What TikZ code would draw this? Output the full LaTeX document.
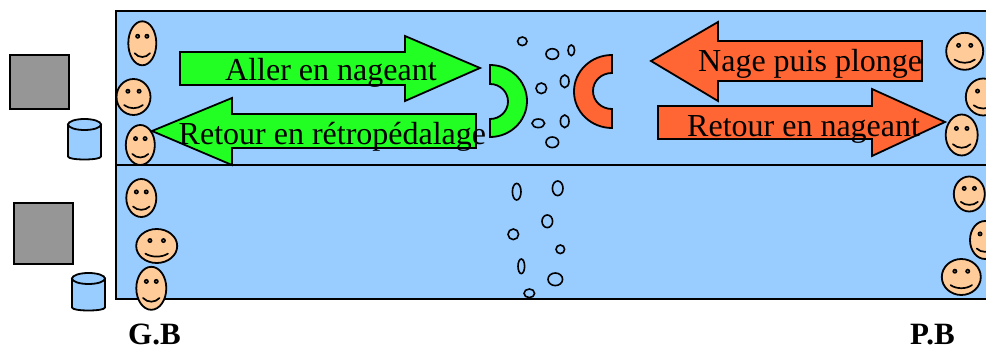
\documentclass[tikz,border=0pt]{standalone}
\usepackage{fontspec}
\setmainfont{Liberation Serif}
\definecolor{water}{HTML}{99CCFF}
\definecolor{skin}{HTML}{FFCC99}
\definecolor{vert}{HTML}{22FF22}
\definecolor{orange2}{HTML}{FF6633}
\definecolor{gris}{HTML}{969696}
\tikzset{
  x=1pt,y=-1pt,
  outl/.style={draw=black,line width=1.8pt,line join=miter},
  basin/.style={outl,fill=water},
  block/.style={outl,fill=gris},
  bubble/.style={draw=black,line width=1.6pt},
  lab/.style={inner sep=0pt,anchor=base west,font=\fontsize{32}{32}\selectfont},
  cote/.style={inner sep=0pt,anchor=base west,font=\fontsize{31}{31}\selectfont\bfseries},
}
\newcommand{\bonhomme}[4]{%
  \begin{scope}[shift={(#1,#2)}]
    \draw[outl,fill=skin] (0,0) ellipse [x radius=#3,y radius=#4];
    \fill[black] (-0.33*#3,-0.32*#4) circle (2.5);
    \fill[black] (0.33*#3,-0.32*#4) circle (2.5);
    \fill[skin!60!black] (-0.33*#3,-0.32*#4) circle (0.8);
    \fill[skin!60!black] (0.33*#3,-0.32*#4) circle (0.8);
    \draw[line width=1.7pt,line cap=round] (-0.55*#3,0.45*#4) .. controls (-0.25*#3,0.68*#4) and (0.25*#3,0.68*#4) .. (0.55*#3,0.45*#4);
  \end{scope}}
\newcommand{\bidon}[4]{% left, right, top, bottom
  \draw[outl,fill=water] (#1,#3+5.5) -- (#1,#4-5.5) .. controls (#1,#4-1.5) and (#2,#4-1.5) .. (#2,#4-5.5) -- (#2,#3+5.5) -- cycle;
  \draw[outl,fill=water] ({(#1+#2)/2},#3+5.5) ellipse [x radius=(#2-#1)/2,y radius=5.5];}
\begin{document}
\begin{tikzpicture}
\useasboundingbox (0,0) rectangle (986,347);
\clip (0,0) rectangle (986,347);
% basins
\fill[water] (116,11) rectangle (1000,299);
\draw[outl] (1000,11) -- (116,11) -- (116,299) -- (1000,299);
\draw[outl] (116,165) -- (1000,165);
% blocks
\draw[block] (10,55) rectangle (69,109);
\draw[block] (14,203) rectangle (73,264);
\bidon{68}{101}{119}{162}
\bidon{72}{105}{273}{313}
% faces
\bonhomme{142.3}{43.3}{14}{22}
\bonhomme{133.5}{97}{17}{18}
\bonhomme{140.3}{145}{14.5}{20}
\bonhomme{141.3}{198}{15}{19}
\bonhomme{156.7}{246}{20.5}{17}
\bonhomme{151.3}{288.3}{15}{21.5}
\bonhomme{964.7}{51.3}{18.5}{18.5}
\bonhomme{983.3}{97}{17.5}{18.5}
\bonhomme{961.7}{135}{16}{20.5}
\bonhomme{969.3}{194}{15.5}{17.5}
\bonhomme{985}{240}{15}{19}
\bonhomme{961.3}{277}{19.5}{18}
% arrows
\draw[outl,fill=vert] (180,52) -- (405,52) -- (405,36) -- (480,68) -- (405,101) -- (405,85) -- (180,85) -- cycle;
\draw[outl,fill=vert] (152,131) -- (232,98) -- (232,114) -- (476,114) -- (476,148) -- (232,148) -- (232,165) -- cycle;
\draw[outl,fill=orange2] (651,61) -- (718,22) -- (718,41) -- (922,41) -- (922,81) -- (718,81) -- (718,101) -- cycle;
\draw[outl,fill=orange2] (658,106) -- (872,106) -- (872,89) -- (945,122) -- (872,156) -- (872,139) -- (658,139) -- cycle;
% fins
\draw[outl,fill=vert] (490,65) .. controls (510.4,65) and (527,81.1) .. (527,101) .. controls (527,120.9) and (510.4,137) .. (490,137) -- (490,119) .. controls (500,119) and (508,111.2) .. (508,101.5) .. controls (508,91.8) and (500,84) .. (490,84) -- cycle;
\draw[outl,fill=orange2] (612,55) .. controls (591,55) and (574,71.3) .. (574,91.5) .. controls (574,111.7) and (591,128) .. (612,128) -- (612,109) .. controls (601.5,109) and (593,101.2) .. (593,91) .. controls (593,80.8) and (601.5,73) .. (612,73) -- cycle;
% bubbles
\foreach \bx/\by/\rx/\ry in {
 522.3/41.3/4.7/4.3, 552.3/54/6.3/5.3, 571.3/50.3/3.3/5.3, 541.3/88.3/5.3/5.3,
 564.7/81.3/4.3/6.3, 538.3/123.3/6.3/4.3, 564.7/121.3/4.3/6.3, 552.3/142.3/6.3/5.3,
 516.7/191.7/4.3/8.3, 557.7/188.3/5.3/7.3, 547.3/221.3/5.3/6.3, 513.3/234.3/5.3/5.3,
 560.3/249.3/4.3/4.3, 521.3/266.3/3.3/7.3, 555.3/279.3/7.3/6.3, 529.3/293.3/5.3/4.3}
  \draw[bubble] (\bx,\by) ellipse [x radius=\rx,y radius=\ry];
% labels
\node[lab] (t1) at (225,81) {Aller en nageant};
\node[lab] (t2) at (178.5,145) {Retour en rétropédalage};
\node[lab] (t3) at (698,72) {Nage puis plonge};
\node[lab] (t4) at (687,137) {Retour en nageant};
\node[cote] (gb) at (128,344.5) {G.B};
\node[cote] (pb) at (910,344.5) {P.B};
\end{tikzpicture}
\end{document}
